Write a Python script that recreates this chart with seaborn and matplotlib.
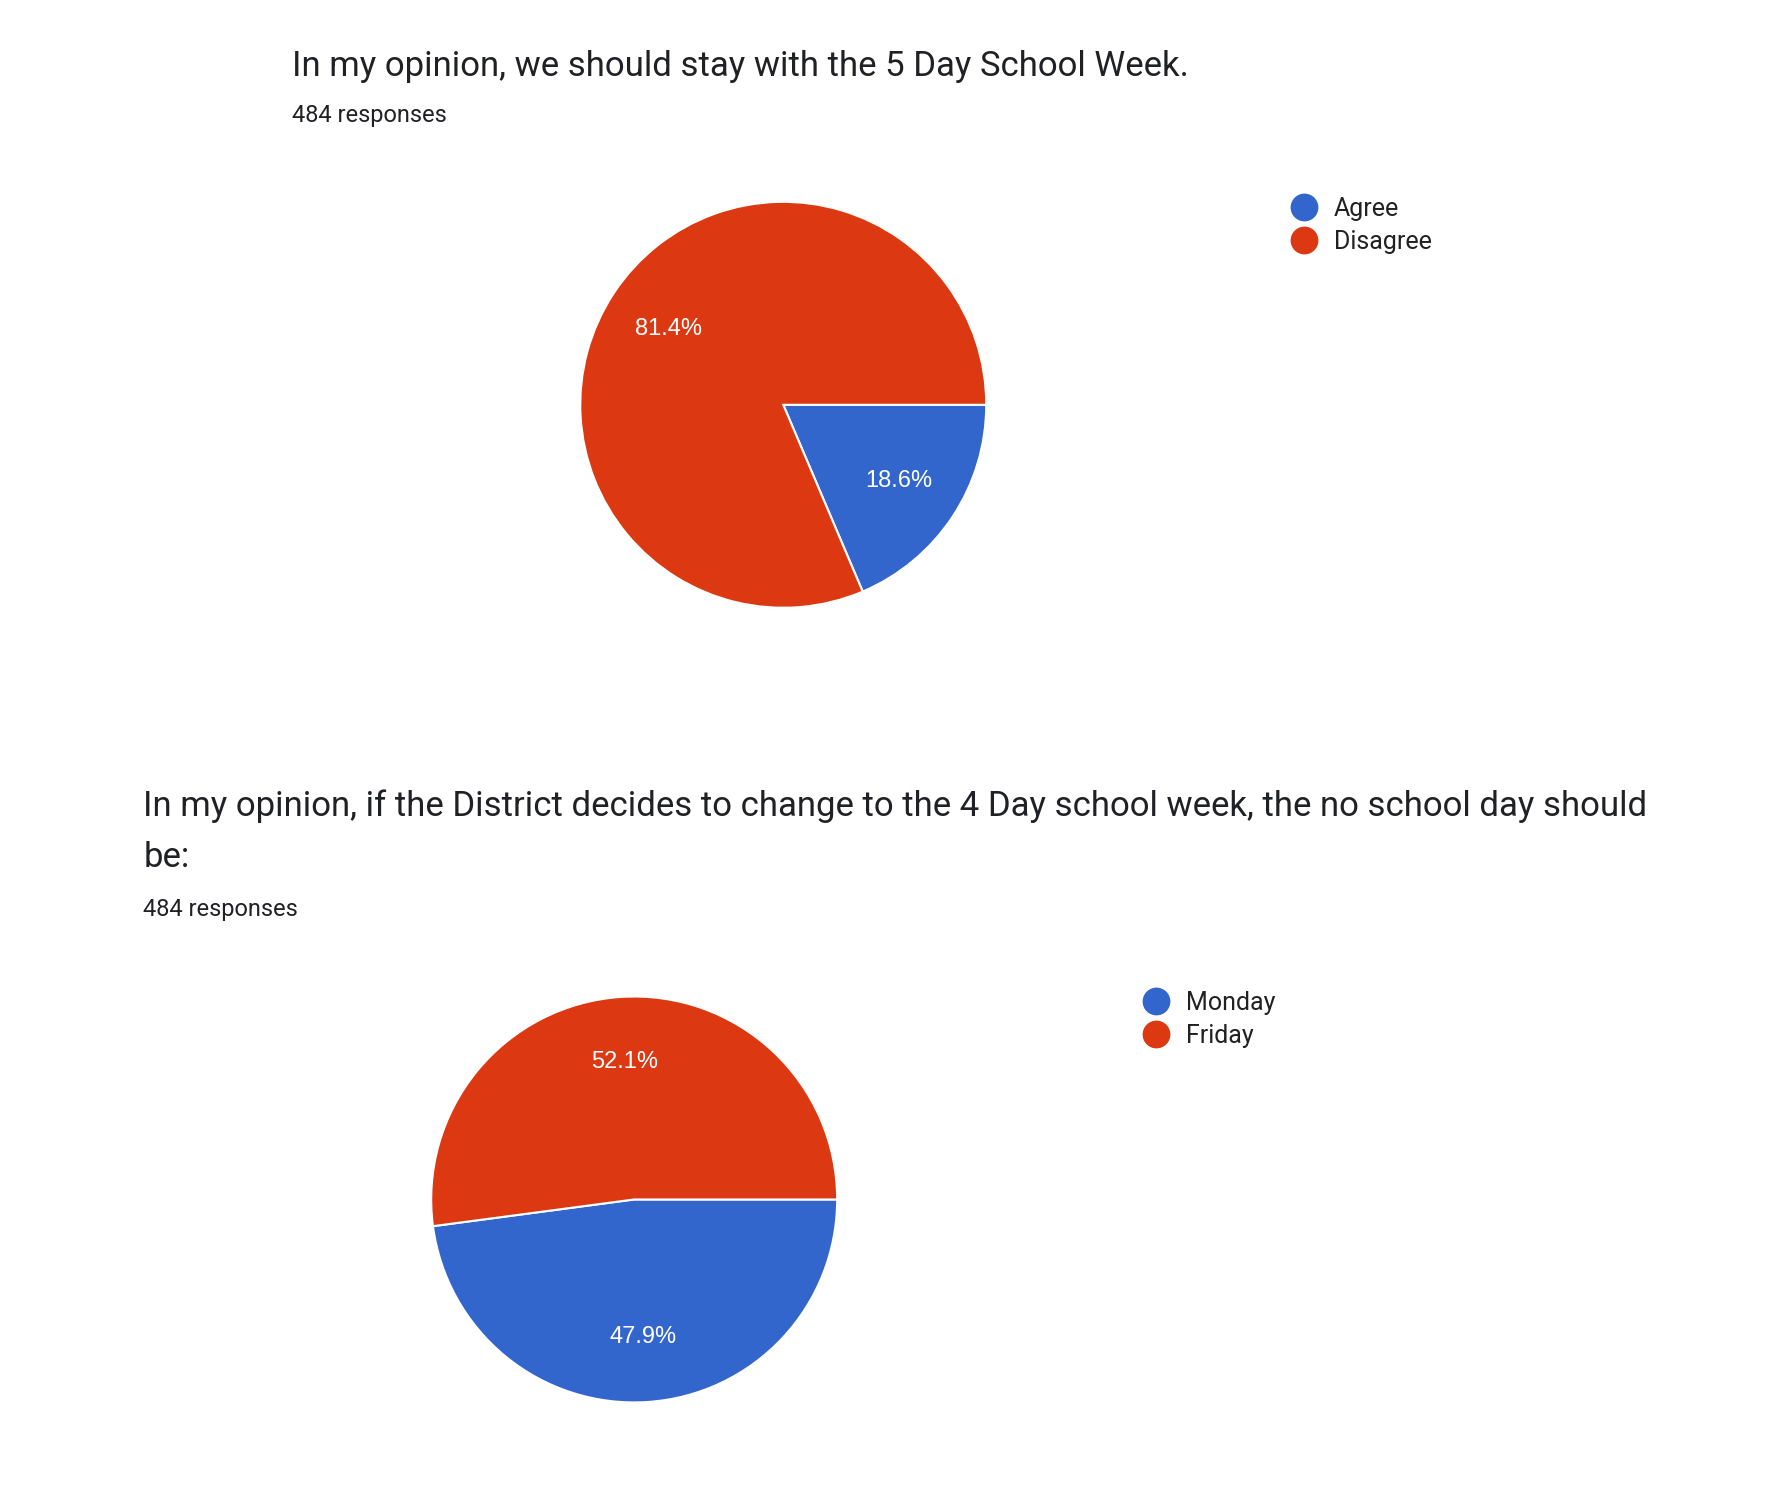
import matplotlib
matplotlib.use("Agg")
import matplotlib.pyplot as plt
import seaborn as sns
from matplotlib.lines import Line2D

sns.set_theme(style="white")
plt.rcParams['font.family'] = ['Roboto', 'DejaVu Sans']

q1_title = "In my opinion, we should stay with the 5 Day School Week."
q1_labels = ["Agree", "Disagree"]
q1_values = [18.6, 81.4]
q2_title_1 = "In my opinion, if the District decides to change to the 4 Day school week, the no school day should"
q2_title_2 = "be:"
q2_labels = ["Monday", "Friday"]
q2_values = [47.9, 52.1]
responses = "484 responses"
colors = ["#3366CC", "#DC3912"]

W, H = 1560, 1295
fig = plt.figure(figsize=(17.89, 14.85), dpi=100)

def pie(cx, cy, r, vals, labels, lx, ly):
    ax = fig.add_axes([(cx - r) / W, 1 - (cy + r) / H, 2 * r / W, 2 * r / H])
    ax.pie(vals, colors=colors, startangle=0, counterclock=False,
           autopct='%1.1f%%', pctdistance=0.68,
           wedgeprops=dict(edgecolor='white', linewidth=1.5),
           textprops=dict(color='white', fontsize=17, family=['Arial', 'Liberation Sans', 'DejaVu Sans']))
    ax.set_aspect('auto')
    ax.set_xlim(-1, 1); ax.set_ylim(-1, 1)
    ax.axis('off')
    handles = [Line2D([], [], marker='o', linestyle='', markersize=19, color=c) for c in colors]
    fig.legend(handles, labels, loc='upper left', bbox_to_anchor=(lx / W, 1 - ly / H),
               frameon=False, fontsize=18, handletextpad=0.2, labelspacing=0.35,
               borderaxespad=0, borderpad=0, labelcolor='#212121')

fig.text(255 / W, 1 - 58 / H, q1_title, fontsize=25, color='#202124', va='center')
fig.text(255 / W, 1 - 101 / H, responses, fontsize=17, color='#202124', va='center')
pie(683, 353, 177, q1_values, q1_labels, 1115, 172)

fig.text(125 / W, 1 - 703 / H, q2_title_1, fontsize=25, color='#202124', va='center')
fig.text(125 / W, 1 - 748 / H, q2_title_2, fontsize=25, color='#202124', va='center')
fig.text(125 / W, 1 - 793 / H, responses, fontsize=17, color='#202124', va='center')
pie(553, 1046, 177, q2_values, q2_labels, 986, 864)

fig.savefig("out.png", dpi=100, facecolor='white')
